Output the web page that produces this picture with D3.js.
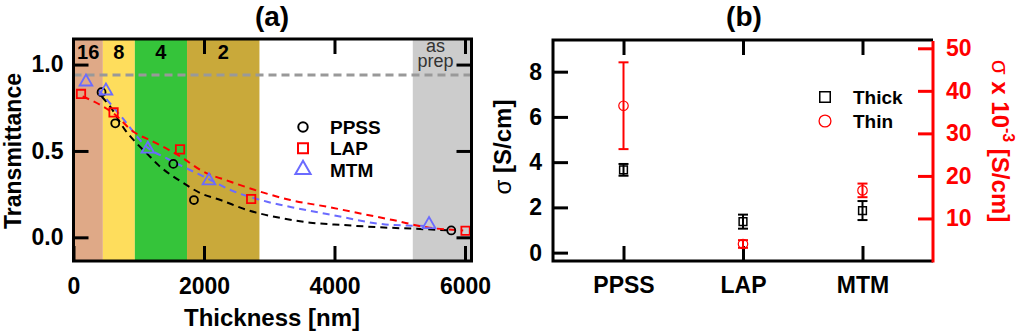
<!DOCTYPE html>
<html>
<head>
<meta charset="utf-8">
<script src="https://cdn.jsdelivr.net/npm/d3@7"></script>
<style>
  body { margin: 0; background: #fff; }
  text { font-family: "Liberation Sans", Arial, sans-serif; }
</style>
</head>
<body>
<div id="container"></div>
<script>
/* CONSTANTS AND GLOBALS */
const width = 1024;
const height = 331;

/* DATA - panel (a) */
const bandEdges = [0, 450, 940, 1740, 2850];
const bandLabels = ["16", "8", "4", "2"];
const asPrepRange = [5200, 6100];
const refLevel = 0.94;

const ppssPts = [[430, 0.84], [640, 0.66], [1530, 0.425], [1846, 0.216], [5790, 0.04]];
const lapPts = [[115, 0.83], [614, 0.723], [1633, 0.509], [2723, 0.222], [6009, 0.038]];
const mtmPts = [[191, 0.90], [497, 0.848], [1139, 0.511], [2076, 0.328], [5449, 0.075]];

// fitted curves
const ppssFit = [[435, 0.814], [563, 0.756], [792, 0.621], [945, 0.553], [1123, 0.486], [1302, 0.418],
  [1694, 0.312], [1949, 0.255], [2254, 0.216], [2662, 0.158], [3121, 0.116], [3630, 0.085],
  [4139, 0.071], [4700, 0.058], [5209, 0.05], [5790, 0.04]];
const lapFit = [[140, 0.815], [298, 0.789], [604, 0.72], [920, 0.611], [1226, 0.553], [1658, 0.463],
  [1949, 0.389], [2407, 0.322], [2866, 0.264], [3324, 0.216], [3885, 0.177], [4649, 0.119],
  [4898, 0.1], [5413, 0.058], [5973, 0.04]];
const mtmFit = [[385, 0.852], [726, 0.702], [1123, 0.523], [1429, 0.457], [1735, 0.399], [2051, 0.341],
  [2407, 0.274], [2968, 0.206], [3427, 0.168], [3885, 0.135], [4903, 0.071], [5449, 0.066]];

const xTicksA = [0, 2000, 4000, 6000];
const yTicksA = [0, 0.5, 1.0];

/* DATA - panel (b) */
const samples = ["PPSS", "LAP", "MTM"];
const thickVal = [3.66, 1.37, 1.86];
const thickErr = [0.26, 0.31, 0.42];
const thinVal = [36.5, 4.0, 16.6];
const thinErr = [10.2, 0.9, 1.6];
const yTicksB = [0, 2, 4, 6, 8];
const yTicksR = [10, 20, 30, 40, 50];

/* COLOURS */
const bandColors = ["#dfa987", "#fedd5c", "#35c43a", "#c9a93a"];
const red = "#ff0000";
const blue = "#6b6bff";

/* SVG */
const svg = d3.select("#container")
  .append("svg")
  .attr("width", width)
  .attr("height", height);

/* ============ PANEL (a) ============ */
const xA = d3.scaleLinear().domain([0, 6100]).range([73.5, 471.5]);
const yA = d3.scaleLinear().domain([-0.137, 1.148]).range([261, 39]);

const gA = svg.append("g");

// shaded bands
gA.selectAll("rect.band")
  .data(bandLabels)
  .join("rect")
  .attr("class", "band")
  .attr("x", (d, i) => xA(bandEdges[i]))
  .attr("width", (d, i) => xA(bandEdges[i + 1]) - xA(bandEdges[i]))
  .attr("y", yA.range()[1])
  .attr("height", yA.range()[0] - yA.range()[1])
  .attr("fill", (d, i) => bandColors[i]);

gA.append("rect")
  .attr("x", xA(asPrepRange[0]))
  .attr("width", xA(asPrepRange[1]) - xA(asPrepRange[0]))
  .attr("y", yA.range()[1])
  .attr("height", yA.range()[0] - yA.range()[1])
  .attr("fill", "#cccccc");

gA.selectAll("text.bandlab")
  .data(bandLabels)
  .join("text")
  .attr("class", "bandlab")
  .attr("x", (d, i) => xA((bandEdges[i] + bandEdges[i + 1]) / 2))
  .attr("y", 59)
  .attr("text-anchor", "middle")
  .attr("font-size", 20)
  .attr("font-weight", "bold")
  .text(d => d);

// "as prep" as one two-line text
const asPrep = gA.append("text")
  .attr("text-anchor", "middle").attr("font-size", 18).attr("fill", "#333");
asPrep.append("tspan").attr("x", xA(5550)).attr("y", 52).text("as");
asPrep.append("tspan").attr("x", xA(5550)).attr("y", 67).text("prep");

// reference line
gA.append("line")
  .attr("x1", xA.range()[0]).attr("x2", xA.range()[1])
  .attr("y1", yA(refLevel)).attr("y2", yA(refLevel))
  .attr("stroke", "#999").attr("stroke-width", 3)
  .attr("stroke-dasharray", "8,5");

// fit curves
const line = d3.line()
  .x(d => xA(d[0]))
  .y(d => yA(d[1]))
  .curve(d3.curveMonotoneX);

[[ppssFit, "#000"], [mtmFit, blue], [lapFit, red]].forEach(([pts, c]) => {
  gA.append("path")
    .attr("d", line(pts))
    .attr("fill", "none")
    .attr("stroke", c)
    .attr("stroke-width", 2)
    .attr("stroke-dasharray", "7,5");
});

// markers
const sym = (type, size) => d3.symbol().type(type).size(size);

gA.selectAll("path.ppss")
  .data(ppssPts)
  .join("path")
  .attr("class", "ppss")
  .attr("transform", d => `translate(${xA(d[0])},${yA(d[1])})`)
  .attr("d", sym(d3.symbolCircle, 50))
  .attr("fill", "none").attr("stroke", "#000").attr("stroke-width", 1.8);

gA.selectAll("path.lap")
  .data(lapPts)
  .join("path")
  .attr("class", "lap")
  .attr("transform", d => `translate(${xA(d[0])},${yA(d[1])})`)
  .attr("d", sym(d3.symbolSquare, 70))
  .attr("fill", "none").attr("stroke", red).attr("stroke-width", 1.8);

gA.selectAll("path.mtm")
  .data(mtmPts)
  .join("path")
  .attr("class", "mtm")
  .attr("transform", d => `translate(${xA(d[0])},${yA(d[1])})`)
  .attr("d", sym(d3.symbolTriangle, 70))
  .attr("fill", "none").attr("stroke", blue).attr("stroke-width", 1.8);

// legend (a)
const legA = [["PPSS", d3.symbolCircle, "#000", 70], ["LAP", d3.symbolSquare, red, 100], ["MTM", d3.symbolTriangle, blue, 100]];
legA.forEach(([name, type, c, s], i) => {
  gA.append("path")
    .attr("transform", `translate(303,${127 + i * 21.3})`)
    .attr("d", sym(type, s))
    .attr("fill", "none").attr("stroke", c).attr("stroke-width", 2);
  gA.append("text")
    .attr("x", 330).attr("y", 127 + i * 21.3 + 7)
    .attr("font-size", 19).attr("font-weight", "bold")
    .text(name);
});

// frame
gA.append("rect")
  .attr("x", xA.range()[0]).attr("y", yA.range()[1])
  .attr("width", xA.range()[1] - xA.range()[0])
  .attr("height", yA.range()[0] - yA.range()[1])
  .attr("fill", "none").attr("stroke", "#000").attr("stroke-width", 3);

// axes
function styleAxis(g) {
  g.select(".domain").remove();
  g.selectAll(".tick line").attr("stroke", "#000").attr("stroke-width", 3);
  g.selectAll(".tick text")
    .attr("font-family", "Liberation Sans, Arial, sans-serif")
    .attr("font-size", 23).attr("font-weight", "bold").attr("fill", "#000");
}

gA.append("g")
  .attr("transform", `translate(${xA.range()[0]},0)`)
  .call(d3.axisLeft(yA).tickValues(yTicksA).tickSize(-15).tickPadding(10).tickFormat(d3.format(".1f")))
  .call(styleAxis);
gA.append("g")
  .attr("transform", `translate(${xA.range()[1]},0)`)
  .call(d3.axisRight(yA).tickValues(yTicksA).tickSize(-15).tickFormat(""))
  .call(styleAxis);
gA.append("g")
  .attr("transform", `translate(0,${yA.range()[0]})`)
  .call(d3.axisBottom(xA).tickValues(xTicksA).tickSize(-15).tickPadding(17).tickFormat(d3.format("d")))
  .call(styleAxis);
gA.append("g")
  .attr("transform", `translate(0,${yA.range()[1]})`)
  .call(d3.axisTop(xA).tickValues(xTicksA.slice(1)).tickSize(-15).tickFormat(""))
  .call(styleAxis);

gA.append("text")
  .attr("x", 272).attr("y", 26)
  .attr("text-anchor", "middle").attr("font-size", 28).attr("font-weight", "bold")
  .text("(a)");
gA.append("text")
  .attr("x", 272).attr("y", 326)
  .attr("text-anchor", "middle").attr("font-size", 24).attr("font-weight", "bold")
  .text("Thickness [nm]");
gA.append("text")
  .attr("transform", "translate(21,151) rotate(-90)")
  .attr("text-anchor", "middle").attr("font-size", 23).attr("font-weight", "bold")
  .text("Transmittance");

/* ============ PANEL (b) ============ */
const xB = d3.scalePoint().domain(samples).range([553, 933]).padding(0.59);
const yB = d3.scaleLinear().domain([-0.37, 9.4]).range([261, 40]);
const yR = d3.scaleLinear().domain([0, 51.95]).range([261, 40]);

const gB = svg.append("g");

// frame: black on three sides, red on the right
gB.append("path")
  .attr("d", `M${xB.range()[1]},40 H${xB.range()[0]} V261 H${xB.range()[1]}`)
  .attr("fill", "none").attr("stroke", "#000").attr("stroke-width", 3);

gB.append("g")
  .attr("transform", `translate(${xB.range()[0]},0)`)
  .call(d3.axisLeft(yB).tickValues(yTicksB).tickSize(-15).tickPadding(11))
  .call(styleAxis);
gB.append("g")
  .attr("transform", "translate(0,261)")
  .call(d3.axisBottom(xB).tickSize(-15).tickPadding(16))
  .call(styleAxis);
gB.append("g")
  .attr("transform", "translate(0,40)")
  .call(d3.axisTop(xB).tickSize(-15).tickFormat(""))
  .call(styleAxis);

const rAxis = gB.append("g")
  .attr("transform", `translate(${xB.range()[1]},0)`)
  .call(d3.axisRight(yR).tickValues(yTicksR).tickSize(-15).tickPadding(13))
  .call(styleAxis);
rAxis.selectAll(".tick line").attr("stroke", red);
rAxis.selectAll(".tick text").attr("fill", red);
rAxis.append("line")
  .attr("x1", 0).attr("x2", 0).attr("y1", 41).attr("y2", 262.5)
  .attr("stroke", red).attr("stroke-width", 3);

// error bars
function errBars(vals, errs, scale, color, cls) {
  const g = gB.selectAll("g." + cls)
    .data(samples)
    .join("g")
    .attr("class", cls)
    .attr("stroke", color).attr("stroke-width", 2).attr("fill", "none");
  g.append("line")
    .attr("x1", d => xB(d)).attr("x2", d => xB(d))
    .attr("y1", (d, i) => scale(vals[i] + errs[i]))
    .attr("y2", (d, i) => scale(vals[i] - errs[i]));
  g.append("line")
    .attr("x1", d => xB(d) - 5).attr("x2", d => xB(d) + 5)
    .attr("y1", (d, i) => scale(vals[i] + errs[i]))
    .attr("y2", (d, i) => scale(vals[i] + errs[i]));
  g.append("line")
    .attr("x1", d => xB(d) - 5).attr("x2", d => xB(d) + 5)
    .attr("y1", (d, i) => scale(vals[i] - errs[i]))
    .attr("y2", (d, i) => scale(vals[i] - errs[i]));
  return g;
}

errBars(thickVal, thickErr, yB, "#000", "thick")
  .append("path")
  .attr("transform", (d, i) => `translate(${xB(d)},${yB(thickVal[i])})`)
  .attr("d", sym(d3.symbolSquare, 60))
  .attr("stroke-width", 1.5);

errBars(thinVal, thinErr, yR, red, "thin")
  .append("path")
  .attr("transform", (d, i) => `translate(${xB(d)},${yR(thinVal[i])})`)
  .attr("d", sym(d3.symbolCircle, 70))
  .attr("stroke-width", 1.2);

// legend (b)
gB.append("path")
  .attr("transform", "translate(825,97)")
  .attr("d", sym(d3.symbolSquare, 110))
  .attr("fill", "none").attr("stroke", "#000").attr("stroke-width", 1.5);
gB.append("text")
  .attr("x", 853).attr("y", 104)
  .attr("font-size", 19).attr("font-weight", "bold")
  .text("Thick");
gB.append("path")
  .attr("transform", "translate(825,121)")
  .attr("d", sym(d3.symbolCircle, 110))
  .attr("fill", "none").attr("stroke", red).attr("stroke-width", 1.3);
gB.append("text")
  .attr("x", 853).attr("y", 128)
  .attr("font-size", 19).attr("font-weight", "bold")
  .text("Thin");

gB.append("text")
  .attr("x", 744).attr("y", 26)
  .attr("text-anchor", "middle").attr("font-size", 28).attr("font-weight", "bold")
  .text("(b)");

const lTitle = gB.append("text")
  .attr("transform", "translate(511,147) rotate(-90)")
  .attr("text-anchor", "middle").attr("font-size", 24).attr("font-weight", "bold");
lTitle.append("tspan").attr("font-weight", "normal").text("σ");
lTitle.append("tspan").text(" [S/cm]");

const rTitle = gB.append("text")
  .attr("transform", "translate(992,141) rotate(90)")
  .attr("text-anchor", "middle").attr("font-size", 24).attr("font-weight", "bold")
  .attr("fill", red);
rTitle.append("tspan").attr("font-weight", "normal").text("σ");
rTitle.append("tspan").text(" x 10");
rTitle.append("tspan").attr("font-size", 16).attr("dy", -11).text("-3");
rTitle.append("tspan").attr("dy", 11).text("  [S/cm]");
</script>
</body>
</html>
